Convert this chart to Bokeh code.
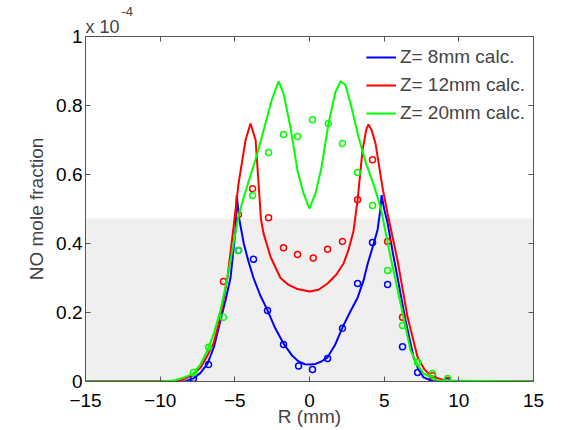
from bokeh.plotting import figure
from bokeh.models import (LinearAxis, FixedTicker, BoxAnnotation, Title, Legend, LegendItem,
                          CustomJSTickFormatter, Range1d)
from bokeh.embed import file_html
from bokeh.resources import INLINE

# ---- data (y in units of 1e-4) ----
x_ticks = [-15, -10, -5, 0, 5, 10, 15]
y_ticks = [0, 0.2, 0.4, 0.6, 0.8, 1.0]
y_tick_labels = ["0", "0.2", "0.4", "0.6", "0.8", "1"]
series_names = ["Z= 8mm calc.", "Z= 12mm calc.", "Z= 20mm calc."]

r_blue_calc = [-15, -9, -8.3, -7.77, -7.3, -6.83, -6.4, -5.96, -5.6, -5.29, -4.95, -4.87, -4.7, -4.4,
               -4.1, -3.75, -3.3, -2.81, -2.3, -1.74, -1.2, -0.73, -0.3, 0, 0.4, 0.8, 1.21, 1.7,
               2.21, 2.7, 3.22, 3.6, 3.9, 4.3, 4.56, 4.75, 4.83, 5.0, 5.23, 5.55, 5.9, 6.43, 6.97,
               7.3, 7.64, 8.3, 9, 15]
y_blue_calc = [0, 0, 0.001, 0.009, 0.025, 0.052, 0.10, 0.177, 0.24, 0.30, 0.44, 0.54, 0.47, 0.40,
               0.35, 0.30, 0.25, 0.206, 0.155, 0.11, 0.077, 0.058, 0.05, 0.049, 0.051, 0.058, 0.07,
               0.105, 0.157, 0.2, 0.243, 0.29, 0.342, 0.40, 0.44, 0.50, 0.54, 0.50, 0.46, 0.38, 0.30,
               0.177, 0.07, 0.035, 0.012, 0.0, 0, 0]

r_red_calc = [-15, -9.5, -8.64, -8.0, -7.3, -6.9, -6.43, -6.0, -5.5, -5.09, -4.75, -4.28, -3.95,
              -3.61, -3.41, -3.25, -3.08, -2.6, -1.94, -1.4, -0.8, 0, 0.6, 1.21, 1.8, 2.28, 2.6,
              2.95, 3.22, 3.55, 3.8, 3.95, 4.15, 4.42, 4.89, 5.23, 5.9, 6.57, 7.24, 7.7, 8.1, 9.25, 15]
y_red_calc = [0, 0, 0.003, 0.015, 0.04, 0.07, 0.11, 0.18, 0.30, 0.446, 0.574, 0.70, 0.748,
              0.70, 0.574, 0.47, 0.43, 0.36, 0.30, 0.28, 0.268, 0.261, 0.266, 0.284, 0.31, 0.342, 0.38,
              0.437, 0.525, 0.67, 0.73, 0.745, 0.73, 0.69, 0.562, 0.487, 0.35, 0.186, 0.07, 0.035,
              0.017, 0, 0]

r_green_calc = [-15, -10, -9.1, -8.5, -7.77, -7.3, -6.83, -6.4, -5.96, -5.5, -5.09, -4.8, -4.5,
                -4.0, -3.5, -3.0, -2.5, -2.07, -1.74, -1.27, -0.8, -0.4, 0, 0.4, 0.8, 1.27, 1.74,
                2.08, 2.4, 2.75, 3.29, 3.8, 4.3, 4.76, 5.43, 6.1, 6.77, 7.2, 7.64, 8.57, 15]
y_green_calc = [0, 0, 0.003, 0.01, 0.023, 0.05, 0.09, 0.14, 0.206, 0.30, 0.40, 0.47, 0.52,
                0.59, 0.66, 0.74, 0.82, 0.87, 0.835, 0.736, 0.61, 0.545, 0.501, 0.545, 0.62, 0.747,
                0.84, 0.87, 0.86, 0.806, 0.707, 0.63, 0.57, 0.505, 0.36, 0.226, 0.09, 0.05, 0.023,
                0.003, 0]

r_blue_meas = [-7.77, -6.76, -4.75, -3.75, -2.81, -1.74, -0.73, 0.2, 1.21, 2.21, 3.22, 4.22, 5.23,
               6.23, 7.24, 8.24, 9.25]
y_blue_meas = [0.009, 0.049, 0.38, 0.354, 0.206, 0.107, 0.045, 0.035, 0.067, 0.154, 0.284, 0.403,
               0.281, 0.101, 0.026, 0.003, 0.0]

r_red_meas = [-5.76, -4.75, -3.81, -2.74, -1.74, -0.8, 0.25, 1.21, 2.21, 3.22, 4.22, 5.23, 6.23,
              8.24, 9.25]
y_red_meas = [0.29, 0.484, 0.559, 0.475, 0.388, 0.368, 0.358, 0.383, 0.406, 0.527, 0.643, 0.406,
              0.186, 0.017, 0.003]

r_green_meas = [-7.77, -6.76, -5.76, -4.75, -3.81, -2.74, -1.74, -0.8, 0.2, 1.26, 2.21, 3.22,
                4.22, 5.23, 6.23, 7.24, 8.24, 9.25]
y_green_meas = [0.026, 0.099, 0.186, 0.38, 0.539, 0.664, 0.716, 0.71, 0.759, 0.748, 0.69, 0.606,
                0.51, 0.322, 0.162, 0.055, 0.023, 0.009]

colors = ["#0000ff", "#ff0000", "#00ff00"]
FONT = "Liberation Sans"
AXCOL = "#555555"

p = figure(width=584, height=430, output_backend="svg", toolbar_location=None,
           x_range=Range1d(-15, 15), y_range=Range1d(0, 1.0),
           min_border_left=85, min_border_right=51, min_border_top=36, min_border_bottom=49)
p.outline_line_color = AXCOL
p.grid.visible = False
p.background_fill_color = "white"
p.border_fill_color = "white"

# light grey band of the reference
p.add_layout(BoxAnnotation(left=-75, right=520, bottom=-60, top=163,
                           left_units="screen", right_units="screen",
                           bottom_units="screen", top_units="screen",
                           fill_color="#efefef", fill_alpha=1.0, line_alpha=0, level="underlay"))

def style_axis(ax, ticks, labels=True):
    ax.ticker = FixedTicker(ticks=ticks)
    ax.minor_tick_line_color = None
    ax.major_tick_in = 5
    ax.major_tick_out = 0
    ax.axis_line_color = AXCOL
    ax.major_tick_line_color = AXCOL
    ax.major_label_text_font = FONT
    ax.major_label_text_font_size = "19px"
    ax.major_label_text_color = "black"
    if not labels:
        ax.formatter = CustomJSTickFormatter(code="return ''")
        ax.major_label_standoff = 0
        ax.major_label_text_font_size = "0px"

xa = p.xaxis[0]
style_axis(xa, x_ticks)
xa.major_label_standoff = 12
xa.axis_label = "R (mm)"
xa.axis_label_text_font = FONT
xa.axis_label_text_font_style = "normal"
xa.axis_label_text_font_size = "19px"
xa.axis_label_text_line_height = 0.8
xa.axis_label_standoff = -4

ya = p.yaxis[0]
style_axis(ya, y_ticks)
ya.major_label_overrides = {t: s for t, s in zip(y_ticks, y_tick_labels)}
ya.major_label_standoff = 3
ya.axis_label = "NO mole fraction"
ya.axis_label_text_font = FONT
ya.axis_label_text_font_style = "normal"
ya.axis_label_text_font_size = "19px"
ya.axis_label_standoff = 6

top_ax = LinearAxis()
style_axis(top_ax, x_ticks, labels=False)
p.add_layout(top_ax, "above")
right_ax = LinearAxis()
style_axis(right_ax, y_ticks, labels=False)
p.add_layout(right_ax, "right")

lines = []
for rc, yc, rm, ym, c in [(r_blue_calc, y_blue_calc, r_blue_meas, y_blue_meas, colors[0]),
                          (r_red_calc, y_red_calc, r_red_meas, y_red_meas, colors[1]),
                          (r_green_calc, y_green_calc, r_green_meas, y_green_meas, colors[2])]:
    lines.append(p.line(rc, yc, line_color=c, line_width=2))
    p.scatter(rm, ym, marker="circle", size=6, fill_color=None, line_color=c, line_width=1.5)

legend = Legend(items=[LegendItem(label=n, renderers=[r]) for n, r in zip(series_names, lines)],
                location="top_right", border_line_alpha=0, background_fill_alpha=0,
                glyph_width=30, glyph_height=26, label_height=26, label_standoff=4,
                spacing=2, padding=0, margin=8,
                label_text_font=FONT, label_text_font_size="19px")
p.add_layout(legend)

# axis multiplier "x 10^-4" above the y axis
p.add_layout(Title(text="x 10", align="left", offset=0, standoff=0,
                   text_font=FONT, text_font_size="18px", text_font_style="normal"), "above")
p.add_layout(Title(text="-4", align="left", offset=36, standoff=-2,
                   text_font=FONT, text_font_size="13px", text_font_style="normal"), "above")

open("out.html", "w").write(file_html(p, INLINE))
